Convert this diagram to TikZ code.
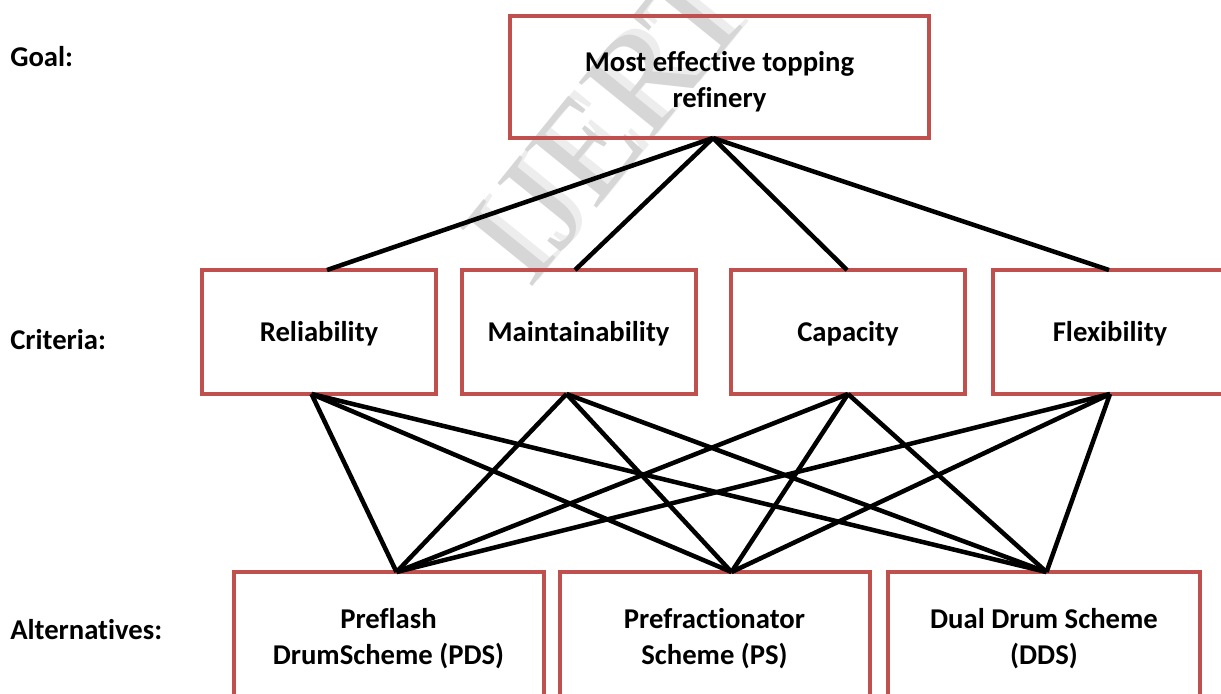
\documentclass[tikz,border=0pt]{standalone}
\usepackage{fontspec}
\setmainfont{Carlito}[Ligatures=NoCommon]
\newfontfamily\wmfont{Liberation Serif}
\usetikzlibrary{calc}
\definecolor{boxred}{HTML}{C0504D}
\begin{document}
\begin{tikzpicture}[x=0.75pt,y=-0.75pt,
  box/.style={draw=boxred,line width=3pt,inner sep=0pt,outer sep=0pt},
  wbox/.style={minimum width=#1*0.75pt},
  hbox/.style={minimum height=#1*0.75pt},
  boxtext/.style={inner sep=0pt,align=center,font=\fontsize{21.5}{27}\selectfont\bfseries},
  link/.style={line width=3.4pt,black,line join=miter},
  level/.style={anchor=west,inner sep=0pt,font=\fontsize{21.5}{27}\selectfont\bfseries},
  mark text/.style={rotate=51,inner sep=0pt,font=\wmfont\fontsize{106}{106}\selectfont}
]
\useasboundingbox (0,0) rectangle (1221,693);
\clip (0,0) rectangle (1221,693);

% faint stamp behind the hierarchy
\node[mark text,text=black!7] (stampshadow) at (614,116) {IJERT};
\node[mark text,text=black!16] (stamp) at (608,122) {IJERT};

% level captions
\node[level] (lgoal) at (10,57) {Goal:};
\node[level] (lcrit) at (10,340) {Criteria:};
\node[level] (lalt) at (10,630) {Alternatives:};

% goal
\node[box,wbox=419,hbox=122] (goal) at (719.5,77) {};
\node[boxtext] (goalt) at ($(goal)+(0,5)$) {Most effective topping\\refinery};

% criteria
\node[box,wbox=234,hbox=124] (rel) at (319,332) {};
\node[box,wbox=234,hbox=124] (mai) at (578.5,332) {};
\node[box,wbox=234,hbox=124] (cap) at (848,332) {};
\node[box,wbox=234,hbox=124] (fle) at (1110,332) {};
\node[boxtext] (relt) at ($(rel)+(0,2)$) {Reliability};
\node[boxtext] (mait) at ($(mai)+(0,2)$) {Maintainability};
\node[boxtext] (capt) at ($(cap)+(0,2)$) {Capacity};
\node[boxtext] (flet) at ($(fle)+(0,2)$) {Flexibility};

% alternatives
\node[box,wbox=310,hbox=130] (pds) at (388.5,637) {};
\node[box,wbox=310,hbox=130] (ps) at (714.5,637) {};
\node[box,wbox=312,hbox=130] (dds) at (1044,637) {};
\node[boxtext] (pdst) at ($(pds)+(0,2)$) {Preflash\\DrumScheme (PDS)};
\node[boxtext] (pst) at ($(ps)+(0,2)$) {Prefractionator\\Scheme (PS)};
\node[boxtext] (ddst) at ($(dds)+(0,2)$) {Dual Drum Scheme\\(DDS)};

% attachment points
\coordinate (g) at ($(goal.south)+(-6.5,0)$);
\coordinate (relT) at ($(rel.north)+(8,0)$);
\coordinate (relB) at ($(rel.south)+(-7.5,0)$);
\coordinate (maiT) at ($(mai.north)+(-3.5,0)$);
\coordinate (maiB) at ($(mai.south)+(-12,0)$);
\coordinate (capT) at ($(cap.north)+(-1,0)$);
\coordinate (capB) at (cap.south);
\coordinate (fleT) at ($(fle.north)+(-1,0)$);
\coordinate (fleB) at (fle.south);
\coordinate (pdsT) at ($(pds.north)+(8,0)$);
\coordinate (psT) at ($(ps.north)+(17,0)$);
\coordinate (ddsT) at ($(dds.north)+(2.5,0)$);

% goal to criteria
\foreach \c in {relT,maiT,capT,fleT}
  \draw[link] (g) -- (\c);

% criteria to alternatives
\foreach \c in {relB,maiB,capB,fleB}
  \foreach \a in {pdsT,psT,ddsT}
    \draw[link] (\c) -- (\a);
\end{tikzpicture}
\end{document}
